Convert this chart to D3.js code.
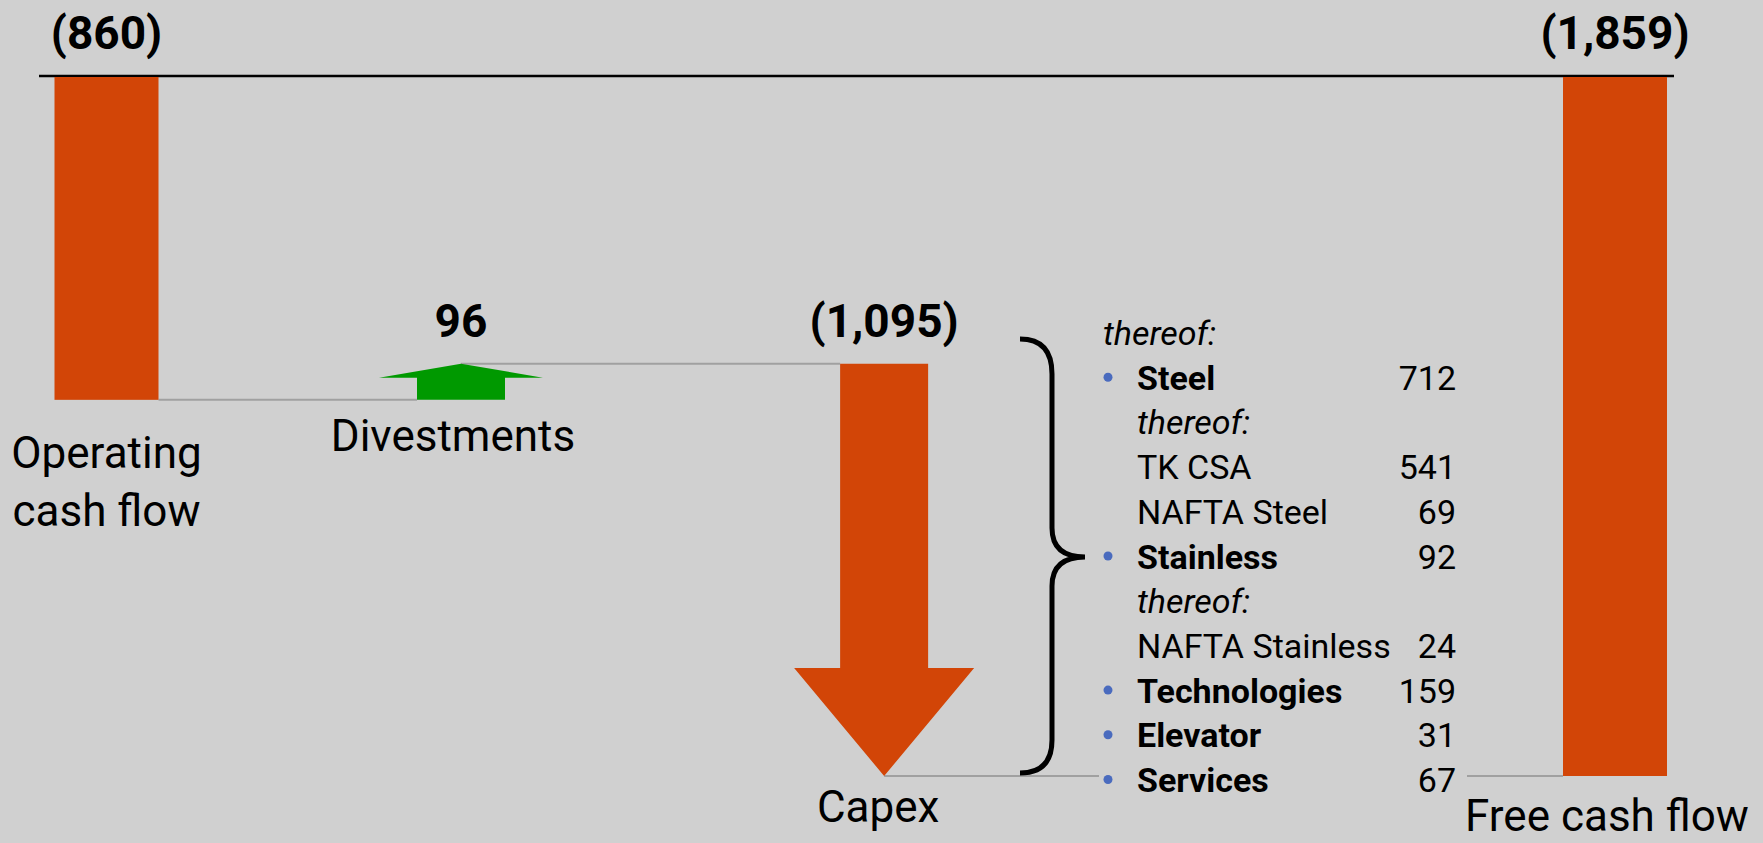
<!DOCTYPE html>
<html>
  <head>
    <meta charset="utf-8">
    <title>Free cash flow bridge</title>
  </head>
  <style>
    body{
      margin: 0;
      background-color: #d0d0d0;
      font-family: "Roboto", "Liberation Sans", sans-serif;
    }
    svg { display: block }
    .connector { stroke: #a0a0a0; stroke-width: 2; fill: none }
    .value { font-weight: 700; font-size: 46px; fill: #000 }
    .cat { font-size: 44px; fill: #000 }
    .list { font-size: 34px; fill: #000 }
  </style>
  <script src="https://d3js.org/d3.v7.min.js"></script>
  <body>
    <script>
    // bridge values (EUR million)
    const categories = ["Operating\ncash flow", "Divestments", "Capex", "Free cash flow"]
    const values = [-860, 96, -1095, -1859]
    const kinds = ["total", "delta", "delta", "total"]

    // capex breakdown
    const capexItems = ["thereof:", "Steel", "thereof:", "TK CSA", "NAFTA Steel", "Stainless",
                        "thereof:", "NAFTA Stainless", "Technologies", "Elevator", "Services"]
    const capexValues = [null, 712, null, 541, 69, 92, null, 24, 159, 31, 67]
    const capexStyles = ["note", "segment", "subnote", "sub", "sub", "segment",
                         "subnote", "sub", "segment", "segment", "segment"]

    var width = 1763
    var height = 843

    var orange = "#d24507"
    var green = "#009900"
    var bulletColor = "#4a6bbe"

    var svg = d3.select("body")
                .append("svg")
                .attr("width", width)
                .attr("height", height)

    // running totals
    var running = 0
    var steps = values.map(function(v, i){
      var s
      if (kinds[i] == "total") {
        s = { start: 0, end: v }
        running = v
      } else {
        s = { start: running, end: running + v }
        running += v
      }
      s.name = categories[i]
      s.value = v
      s.kind = kinds[i]
      return s
    })

    // y scale: zero on the top line
    let yScale = d3.scaleLinear()
                   .domain([0, d3.min(values)])
                   .range([76, 776])

    // x: slot positions, capex list takes space before the last bar
    const slots = [0, 0.94, 2.062, 4]
    let xScale = d3.scaleLinear()
                   .domain([0, 4])
                   .range([106.5, 1615])

    var barW = 104
    var shaftW = 88

    var fmt = d3.format(",")
    function label(v){
      return v < 0 ? "(" + fmt(-v) + ")" : fmt(v)
    }

    //top line
    svg.append("line")
       .attr("x1", 39).attr("x2", 1674)
       .attr("y1", yScale(0)).attr("y2", yScale(0))
       .attr("stroke", "#000")
       .attr("stroke-width", 2.5)

    //connectors
    var conn = svg.append("g")
    conn.append("line").attr("class", "connector")
        .attr("x1", xScale(slots[0]) + barW / 2).attr("x2", xScale(slots[1]) - shaftW / 2)
        .attr("y1", yScale(steps[0].end)).attr("y2", yScale(steps[0].end))
    conn.append("line").attr("class", "connector")
        .attr("x1", xScale(slots[1])).attr("x2", xScale(slots[2]) - shaftW / 2)
        .attr("y1", yScale(steps[1].end)).attr("y2", yScale(steps[1].end))
    conn.append("line").attr("class", "connector")
        .attr("x1", xScale(slots[2])).attr("x2", 1099)
        .attr("y1", yScale(steps[2].end)).attr("y2", yScale(steps[2].end))
    conn.append("line").attr("class", "connector")
        .attr("x1", 1467).attr("x2", xScale(slots[3]) - barW / 2)
        .attr("y1", yScale(steps[2].end)).attr("y2", yScale(steps[2].end))

    function arrowPath(d, cx){
      var y0 = yScale(d.start), y1 = yScale(d.end)
      var up = y1 < y0
      var headH = up ? 14 : 108
      var hw = up ? 82 : 90
      var sw = shaftW / 2
      var yb = up ? y1 + headH : y1 - headH
      return "M" + (cx - sw) + "," + y0 +
             "L" + (cx - sw) + "," + yb +
             "L" + (cx - hw) + "," + yb +
             "L" + cx + "," + y1 +
             "L" + (cx + hw) + "," + yb +
             "L" + (cx + sw) + "," + yb +
             "L" + (cx + sw) + "," + y0 + "Z"
    }

    var marks = svg.append("g")
    steps.forEach(function(d, i){
      var cx = xScale(slots[i])
      if (d.kind == "total") {
        marks.append("rect")
             .attr("x", cx - barW / 2)
             .attr("y", yScale(0) + 1)
             .attr("width", barW)
             .attr("height", yScale(d.end) - yScale(0) - 1)
             .attr("fill", orange)
      } else {
        marks.append("path")
             .attr("d", arrowPath(d, cx))
             .attr("fill", d.value > 0 ? green : orange)
      }
    })

    // value labels
    svg.append("g").selectAll("text")
       .data(steps)
       .enter()
       .append("text")
       .attr("class", "value")
       .attr("text-anchor", "middle")
       .attr("x", function(d, i){ return xScale(slots[i]) })
       .attr("y", function(d){
         var top = Math.min(yScale(d.start), yScale(d.end))
         return top - 27
       })
       .text(function(d){ return label(d.value) })

    // category labels
    const labelDy = [68, 51, 46, 55]
    const labelDx = [0, -8, -6, -8]
    var cats = svg.append("g").selectAll("text")
       .data(steps)
       .enter()
       .append("text")
       .attr("class", "cat")
       .attr("text-anchor", "middle")
       .attr("x", function(d, i){ return xScale(slots[i]) + labelDx[i] })
       .attr("y", function(d, i){
         var bottom = Math.max(yScale(d.start), yScale(d.end), yScale(0))
         return bottom + labelDy[i]
       })
    cats.each(function(d){
      var t = d3.select(this)
      d.name.split("\n").forEach(function(line, k){
        t.append("tspan")
         .attr("x", t.attr("x"))
         .attr("dy", k == 0 ? 0 : 58)
         .text(line)
      })
    })

    // brace
    svg.append("path")
       .attr("d", "M1020,339 Q1052,339 1052,374 L1052,528 Q1052,557 1085,557" +
                  " Q1052,557 1052,586 L1052,740 Q1052,773 1020,773")
       .attr("fill", "none")
       .attr("stroke", "#000")
       .attr("stroke-width", 5)

    // capex breakdown list
    var list = svg.append("g")
    var rowY = d3.scaleLinear().domain([0, capexItems.length - 1]).range([345, 792])
    capexItems.forEach(function(name, i){
      var st = capexStyles[i]
      var y = rowY(i)
      var tx = st == "note" ? 1103 : 1137
      list.append("text")
          .attr("class", "list")
          .attr("x", tx)
          .attr("y", y)
          .attr("font-weight", st == "segment" ? 700 : 400)
          .attr("font-style", (st == "note" || st == "subnote") ? "italic" : "normal")
          .text(name)
      if (st == "segment") {
        list.append("circle")
            .attr("cx", 1108)
            .attr("cy", y - 12.5)
            .attr("r", 4.5)
            .attr("fill", bulletColor)
      }
      if (capexValues[i] != null) {
        list.append("text")
            .attr("class", "list")
            .attr("x", 1456)
            .attr("y", y)
            .attr("text-anchor", "end")
            .text(capexValues[i])
      }
    })
    </script>
  </body>
</html>
